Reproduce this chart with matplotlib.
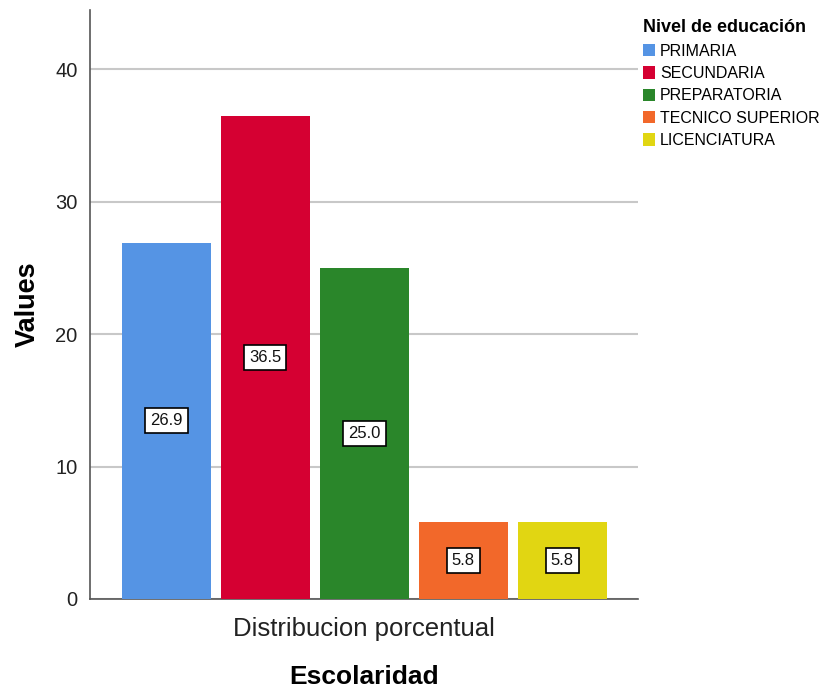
import numpy as np
import matplotlib.pyplot as plt
from matplotlib.patches import Patch

plt.rcParams['font.family'] = ['Liberation Sans', 'DejaVu Sans']

niveles = ['PRIMARIA', 'SECUNDARIA', 'PREPARATORIA', 'TECNICO SUPERIOR', 'LICENCIATURA']
porcentajes = [26.9, 36.5, 25.0, 5.8, 5.8]
colores = ['#5594e4', '#d50032', '#2a862a', '#f2682a', '#e1d612']

fig = plt.figure(figsize=(8.25, 6.9), dpi=100)
ax = fig.add_axes([0.109, 0.132, 0.664, 0.854])

x = np.arange(len(niveles))
bars = ax.bar(x, porcentajes, width=0.9, color=colores, zorder=3)

for b, v in zip(bars, porcentajes):
    ax.text(b.get_x() + b.get_width() / 2, v / 2, f'{v:.1f}', ha='center', va='center',
            fontsize=12, color='#111111', zorder=4,
            bbox=dict(boxstyle='square,pad=0.3', facecolor='white', edgecolor='black', linewidth=1.2))

ax.set_xlim(-0.773, 4.763)
ax.set_ylim(0, 44.5)
ax.set_yticks([0, 10, 20, 30, 40])
ax.set_xticks([2])
ax.set_xticklabels(['Distribucion porcentual'], fontsize=18.5, color='#222222')
ax.tick_params(axis='x', length=0, pad=13)
ax.tick_params(axis='y', length=0, labelsize=14.5, pad=9, colors='#222222')
ax.grid(axis='y', color='#c8c8c8', linewidth=1.5, zorder=0)

for s in ['top', 'right']:
    ax.spines[s].set_visible(False)
for s in ['left', 'bottom']:
    ax.spines[s].set_color('#555555')
    ax.spines[s].set_linewidth(1.2)

ax.set_xlabel('Escolaridad', fontsize=19, fontweight='bold', labelpad=17)
ax.set_ylabel('Values', fontsize=19.5, fontweight='bold', labelpad=10)

handles = [Patch(facecolor=c, label=n) for c, n in zip(colores, niveles)]
leg = fig.legend(handles=handles, title='Nivel de educación', loc='upper left',
                 bbox_to_anchor=(0.779, 0.972), frameon=False, fontsize=11.5,
                 title_fontproperties={'weight': 'bold', 'size': 13},
                 handlelength=0.8, handleheight=0.8, handletextpad=0.3,
                 labelspacing=0.46, borderaxespad=0, borderpad=0)
leg._legend_box.align = 'left'

fig.savefig('out.png', dpi=100)
